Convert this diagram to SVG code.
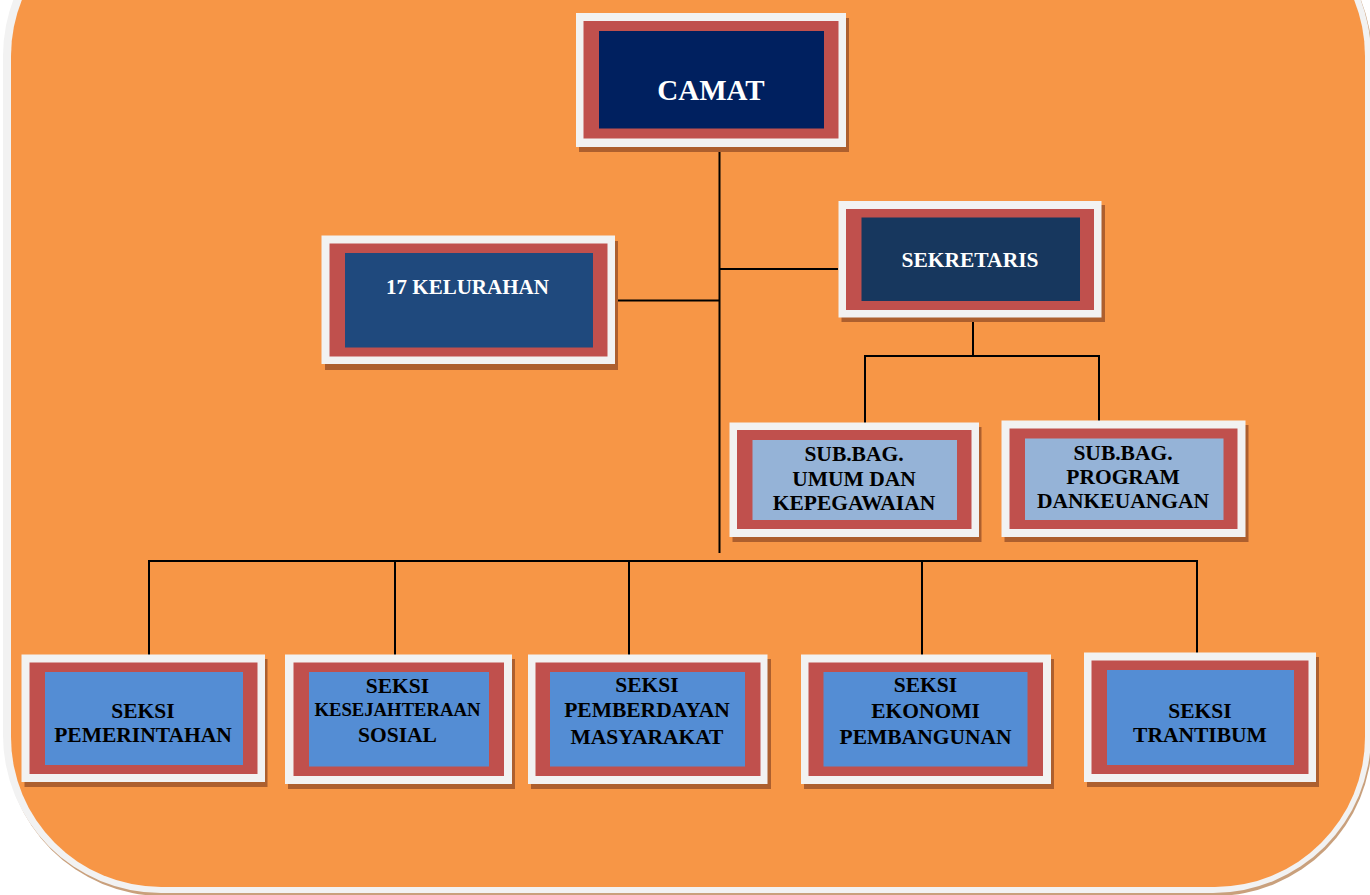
<svg xmlns="http://www.w3.org/2000/svg" width="1370" height="895" viewBox="0 0 1370 895">
<defs>
<style>
.frame{fill:#f2f2f2}
.shadow{fill:#ad5f2e}
.red{fill:#c0504d}
.txt{font-family:"Liberation Serif","Times New Roman",serif;font-weight:bold;text-anchor:middle}
.w{fill:#ffffff}
.b{fill:#000000}
.conn line{stroke:#000000;stroke-width:2}
</style>
</defs>
<rect x="0" y="0" width="1370" height="895" fill="#ffffff"/>
<g id="background">
<rect x="5" y="-100" width="1367" height="996" rx="158" fill="#c9a07c"/>
<rect x="3" y="-102" width="1368" height="995" rx="158" fill="#f2f2f2"/>
<rect x="11" y="-94" width="1354" height="981" rx="150" fill="#f79646"/>
</g>
<g class="conn" id="connectors">
<line x1="719.5" y1="146" x2="719.5" y2="553"/>
<line x1="719.5" y1="269" x2="838" y2="269"/>
<line x1="612" y1="300.5" x2="719.5" y2="300.5"/>
<line x1="973" y1="310" x2="973" y2="356"/>
<line x1="864" y1="356" x2="1100" y2="356"/>
<line x1="865" y1="356" x2="865" y2="423"/>
<line x1="1099" y1="356" x2="1099" y2="421"/>
<line x1="148" y1="561" x2="1198" y2="561"/>
<line x1="149" y1="561" x2="149" y2="655"/>
<line x1="395" y1="561" x2="395" y2="655"/>
<line x1="629" y1="561" x2="629" y2="655"/>
<line x1="922" y1="561" x2="922" y2="655"/>
<line x1="1197" y1="561" x2="1197" y2="653"/>
</g>
<g id="camat">
<rect class="shadow" x="579" y="18" width="270" height="134"/>
<rect class="frame" x="576" y="13" width="270" height="134"/>
<rect class="red" x="583.5" y="21" width="255" height="117.5"/>
<rect x="599" y="31" width="225" height="97.5" fill="#00205f"/>
<text class="txt w" x="711" y="100" font-size="29">CAMAT</text>
</g>
<g id="kelurahan">
<rect class="shadow" x="325" y="241" width="293" height="129"/>
<rect class="frame" x="321.5" y="235.5" width="293.5" height="128.5"/>
<rect class="red" x="329.5" y="243.5" width="278" height="113"/>
<rect x="345" y="253" width="248" height="94.5" fill="#1f497d"/>
<text class="txt w" x="467.5" y="293.5" font-size="21">17 KELURAHAN</text>
</g>
<g id="sekretaris">
<rect class="shadow" x="841.5" y="205" width="263.5" height="117"/>
<rect class="frame" x="838.5" y="201" width="263" height="116.5"/>
<rect class="red" x="846" y="209" width="248" height="101"/>
<rect x="861.5" y="217.5" width="218.5" height="83.5" fill="#17375e"/>
<text class="txt w" x="970" y="267" font-size="21.5">SEKRETARIS</text>
</g>
<g id="subbag-umum">
<rect class="shadow" x="732.5" y="427" width="249" height="115"/>
<rect class="frame" x="729.5" y="422.5" width="249.5" height="114.5"/>
<rect class="red" x="737" y="430" width="234.5" height="99"/>
<rect x="752.5" y="440" width="204.5" height="80" fill="#95b3d7"/>
<text class="txt b" x="854" font-size="21.5"><tspan x="854" y="461">SUB.BAG.</tspan><tspan x="854" y="485.5">UMUM DAN</tspan><tspan x="854" y="509.5">KEPEGAWAIAN</tspan></text>
</g>
<g id="subbag-program">
<rect class="shadow" x="1004.5" y="425" width="244" height="117"/>
<rect class="frame" x="1001.5" y="420.5" width="244" height="116.5"/>
<rect class="red" x="1009.5" y="428.5" width="228" height="100.5"/>
<rect x="1025" y="438.5" width="198.5" height="81.5" fill="#95b3d7"/>
<text class="txt b" x="1123" font-size="21.5"><tspan x="1123" y="460">SUB.BAG.</tspan><tspan x="1123" y="484">PROGRAM</tspan><tspan x="1123" y="507.5">DANKEUANGAN</tspan></text>
</g>
<g id="seksi-pemerintahan">
<rect class="shadow" x="24.5" y="659" width="243" height="128"/>
<rect class="frame" x="21.5" y="654.5" width="243.5" height="127.5"/>
<rect class="red" x="29.5" y="662.5" width="228" height="111.5"/>
<rect x="45" y="672" width="198" height="93" fill="#548dd4"/>
<text class="txt b" x="143" font-size="21.5"><tspan x="143" y="718">SEKSI</tspan><tspan x="143" y="741.5">PEMERINTAHAN</tspan></text>
</g>
<g id="seksi-kesejahteraan">
<rect class="shadow" x="288" y="659" width="227" height="130"/>
<rect class="frame" x="285" y="654.5" width="227" height="129.5"/>
<rect class="red" x="293.5" y="662.5" width="210.5" height="113.5"/>
<rect x="309" y="672" width="180" height="94.5" fill="#548dd4"/>
<text class="txt b" x="397.5" font-size="18.7"><tspan x="397.5" y="692.5" font-size="21.5">SEKSI</tspan><tspan x="397.5" y="715.5">KESEJAHTERAAN</tspan><tspan x="397.5" y="741.5" font-size="21.5">SOSIAL</tspan></text>
</g>
<g id="seksi-pemberdayan">
<rect class="shadow" x="531" y="659" width="240" height="130"/>
<rect class="frame" x="528" y="654.5" width="239.5" height="129.5"/>
<rect class="red" x="535.5" y="662.5" width="225" height="113.5"/>
<rect x="550" y="672" width="195" height="94.5" fill="#548dd4"/>
<text class="txt b" x="647" font-size="21.5"><tspan x="647" y="692">SEKSI</tspan><tspan x="647" y="717">PEMBERDAYAN</tspan><tspan x="647" y="744">MASYARAKAT</tspan></text>
</g>
<g id="seksi-ekonomi">
<rect class="shadow" x="804" y="659" width="250" height="130"/>
<rect class="frame" x="801" y="654.5" width="250" height="129.5"/>
<rect class="red" x="808.5" y="662.5" width="234.5" height="113.5"/>
<rect x="823.5" y="672" width="204" height="94.5" fill="#548dd4"/>
<text class="txt b" x="925.5" font-size="21.5"><tspan x="925.5" y="692">SEKSI</tspan><tspan x="925.5" y="717.5">EKONOMI</tspan><tspan x="925.5" y="744">PEMBANGUNAN</tspan></text>
</g>
<g id="seksi-trantibum">
<rect class="shadow" x="1087" y="657" width="232" height="130"/>
<rect class="frame" x="1084" y="652.5" width="232" height="129.5"/>
<rect class="red" x="1091.5" y="660.5" width="217" height="113.5"/>
<rect x="1107" y="670" width="187" height="95" fill="#548dd4"/>
<text class="txt b" x="1200" font-size="21.5"><tspan x="1200" y="718">SEKSI</tspan><tspan x="1200" y="741.5">TRANTIBUM</tspan></text>
</g>
</svg>
